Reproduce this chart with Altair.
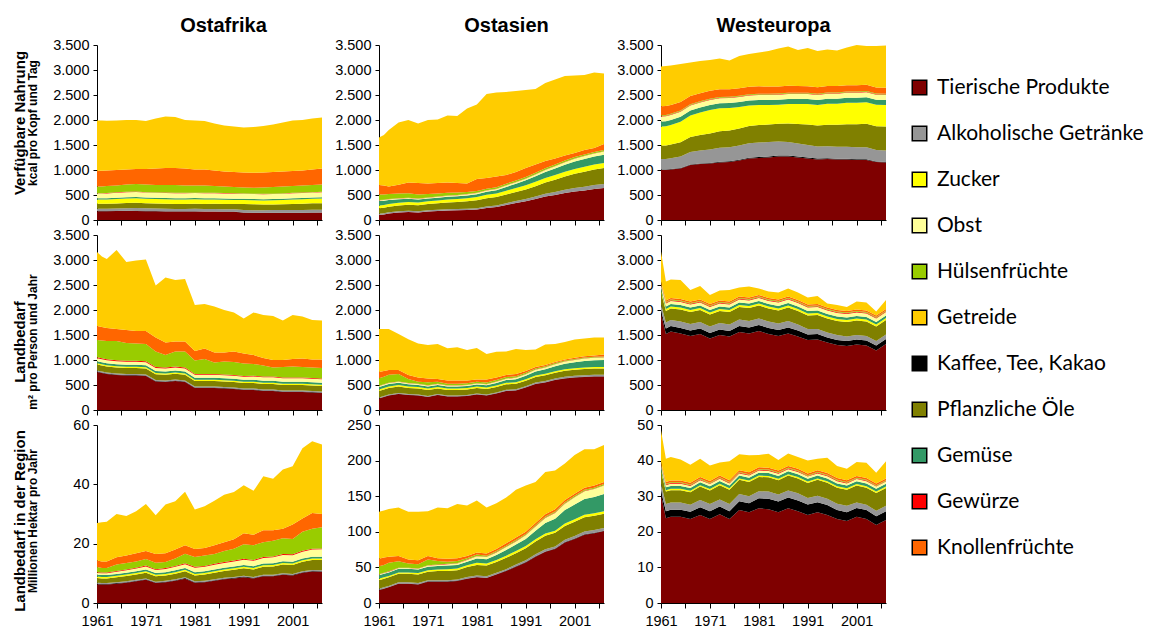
import altair as alt
import pandas as pd

YEARS = [1961, 1962, 1963, 1965, 1967, 1969, 1971, 1973, 1975, 1977, 1979, 1981, 1983,
         1985, 1987, 1989, 1991, 1993, 1995, 1997, 1999, 2001, 2003, 2005, 2007]
TICK_YEARS = [1961, 1966, 1971, 1976, 1981, 1986, 1991, 1996, 2001, 2006]

# legend order
CATEGORIES = ["Tierische Produkte", "Alkoholische Getränke", "Zucker", "Obst", "Hülsenfrüchte",
              "Getreide", "Kaffee, Tee, Kakao", "Pflanzliche Öle", "Gemüse", "Gewürze", "Knollenfrüchte"]
COLORS = ["#7f0000", "#969696", "#ffff00", "#ffff99", "#99cc00", "#ffcc00", "#000000",
          "#808000", "#339966", "#ff0000", "#ff6600"]
KEYS = {"tier": "Tierische Produkte", "kaffee": "Kaffee, Tee, Kakao", "alk": "Alkoholische Getränke",
        "oele": "Pflanzliche Öle", "zucker": "Zucker", "gemuese": "Gemüse", "obst": "Obst",
        "gewuerze": "Gewürze", "huelsen": "Hülsenfrüchte", "knollen": "Knollenfrüchte",
        "getreide": "Getreide"}
# stacking order, bottom to top
STACK = ["tier", "kaffee", "alk", "oele", "zucker", "gemuese", "obst", "gewuerze", "huelsen",
         "knollen", "getreide"]

COL_TITLES = ["Ostafrika", "Ostasien", "Westeuropa"]
ROW_TITLES = [("Verfügbare Nahrung", "kcal pro Kopf und Tag"),
              ("Landbedarf", "m² pro Person und Jahr"),
              ("Landbedarf in der Region", "Millionen Hektar pro Jahr")]

# ---------- Ostafrika, kcal pro Kopf und Tag ----------
OA_KCAL = {
    "tier": [175, 175, 175, 178, 180, 178, 175, 175, 172, 170, 170, 170, 168, 168, 165, 165, 145, 140, 140, 140, 140, 142, 142, 145, 148],
    "kaffee": [4, 4, 4, 4, 4, 4, 4, 4, 4, 4, 4, 4, 4, 4, 4, 4, 4, 4, 4, 4, 4, 4, 4, 4, 4],
    "alk": [45, 45, 48, 50, 52, 60, 55, 50, 50, 48, 48, 50, 50, 48, 48, 48, 50, 50, 52, 55, 55, 55, 55, 55, 55],
    "oele": [100, 100, 100, 100, 105, 105, 100, 100, 100, 100, 100, 100, 100, 105, 105, 105, 120, 120, 115, 110, 115, 120, 125, 130, 130],
    "zucker": [85, 85, 85, 90, 90, 90, 90, 90, 90, 90, 90, 90, 90, 85, 85, 80, 80, 80, 80, 85, 85, 90, 90, 90, 95],
    "gemuese": [25, 25, 25, 25, 25, 25, 25, 25, 25, 25, 25, 25, 25, 25, 25, 25, 25, 25, 25, 25, 25, 25, 25, 25, 25],
    "obst": [95, 95, 95, 100, 100, 100, 100, 100, 100, 100, 100, 100, 100, 100, 100, 100, 100, 100, 100, 100, 100, 100, 100, 100, 100],
    "gewuerze": [8, 8, 8, 8, 8, 8, 8, 8, 8, 8, 8, 8, 8, 8, 8, 8, 8, 8, 8, 8, 8, 8, 8, 8, 8],
    "huelsen": [133, 133, 140, 135, 146, 150, 153, 148, 151, 155, 145, 143, 145, 137, 130, 125, 118, 118, 126, 133, 138, 136, 141, 143, 145],
    "knollen": [315, 315, 310, 310, 300, 300, 310, 330, 340, 340, 340, 320, 320, 310, 300, 300, 300, 300, 300, 300, 300, 300, 300, 310, 320],
    "getreide": [1005, 1005, 995, 990, 990, 980, 960, 1000, 1030, 1020, 970, 980, 970, 940, 920, 910, 900, 915, 930, 950, 980, 1010, 1010, 1020, 1020],
}

# ---------- Ostasien, kcal pro Kopf und Tag ----------
OS_KCAL = {
    "tier": [100, 110, 130, 150, 160, 150, 170, 180, 190, 195, 200, 210, 240, 260, 300, 340, 375, 420, 470, 500, 540, 570, 590, 620, 640],
    "kaffee": [2, 2, 2, 2, 2, 2, 2, 2, 2, 2, 2, 2, 2, 2, 2, 2, 2, 2, 2, 2, 2, 2, 2, 2, 2],
    "alk": [25, 25, 25, 25, 25, 25, 25, 25, 25, 25, 25, 25, 30, 30, 35, 40, 45, 50, 55, 60, 65, 70, 75, 78, 80],
    "oele": [110, 110, 110, 115, 120, 120, 125, 130, 135, 140, 150, 160, 165, 170, 175, 180, 190, 205, 225, 245, 265, 285, 300, 310, 320],
    "zucker": [55, 55, 55, 55, 55, 55, 55, 55, 60, 60, 60, 65, 70, 70, 75, 80, 85, 90, 90, 95, 95, 95, 100, 100, 100],
    "gemuese": [90, 85, 80, 70, 65, 60, 55, 55, 55, 55, 55, 55, 60, 65, 75, 85, 100, 110, 120, 130, 140, 150, 155, 160, 165],
    "obst": [15, 15, 15, 15, 15, 15, 15, 18, 20, 20, 22, 25, 25, 25, 28, 30, 30, 35, 40, 45, 50, 55, 60, 62, 65],
    "gewuerze": [5, 5, 5, 5, 5, 5, 5, 5, 5, 5, 5, 5, 5, 5, 5, 5, 5, 5, 5, 5, 5, 5, 5, 5, 5],
    "huelsen": [110, 105, 100, 95, 90, 80, 70, 60, 55, 50, 40, 35, 30, 30, 30, 30, 30, 30, 30, 28, 28, 26, 25, 25, 25],
    "knollen": [188, 178, 148, 175, 215, 228, 208, 210, 203, 188, 171, 238, 213, 213, 175, 168, 178, 163, 143, 120, 100, 82, 88, 78, 118],
    "getreide": [950, 1010, 1130, 1243, 1248, 1190, 1270, 1270, 1340, 1340, 1500, 1490, 1680, 1680, 1660, 1620, 1560, 1510, 1560, 1580, 1590, 1550, 1500, 1510, 1410],
}

# ---------- Westeuropa, kcal pro Kopf und Tag ----------
WE_KCAL = {
    "tier": [1000, 1000, 1010, 1030, 1100, 1120, 1130, 1150, 1160, 1190, 1230, 1240, 1250, 1270, 1270, 1250, 1230, 1210, 1220, 1210, 1210, 1200, 1200, 1160, 1150],
    "kaffee": [10, 10, 10, 10, 12, 12, 12, 14, 15, 15, 15, 18, 20, 22, 22, 22, 20, 18, 16, 14, 14, 14, 14, 12, 12],
    "alk": [210, 210, 215, 230, 250, 260, 270, 280, 280, 285, 290, 290, 290, 280, 270, 260, 250, 240, 240, 240, 240, 240, 240, 230, 230],
    "oele": [270, 270, 275, 285, 300, 310, 320, 330, 335, 340, 345, 350, 350, 355, 370, 390, 410, 420, 430, 440, 450, 460, 470, 475, 480],
    "zucker": [380, 385, 390, 410, 430, 450, 470, 460, 450, 430, 410, 400, 390, 380, 390, 400, 410, 410, 420, 420, 430, 430, 430, 430, 430],
    "gemuese": [100, 100, 100, 100, 100, 100, 100, 100, 100, 100, 100, 100, 100, 100, 100, 100, 100, 100, 100, 100, 100, 100, 100, 100, 100],
    "obst": [100, 100, 100, 100, 100, 100, 100, 100, 100, 100, 100, 100, 100, 100, 100, 100, 100, 100, 100, 100, 100, 100, 100, 100, 100],
    "gewuerze": [10, 10, 10, 10, 10, 10, 10, 10, 10, 10, 10, 10, 10, 10, 10, 10, 10, 10, 10, 10, 10, 10, 10, 10, 10],
    "huelsen": [15, 15, 15, 15, 15, 15, 15, 15, 15, 15, 15, 15, 15, 15, 15, 15, 15, 15, 15, 15, 15, 15, 15, 15, 15],
    "knollen": [180, 180, 175, 170, 165, 160, 160, 155, 150, 150, 150, 150, 145, 140, 140, 135, 130, 130, 130, 130, 125, 125, 125, 120, 120],
    "getreide": [795, 800, 790, 760, 668, 643, 613, 616, 575, 645, 655, 677, 710, 758, 783, 718, 765, 727, 729, 711, 756, 806, 776, 828, 843],
}

# ---------- Ostafrika, m² pro Person und Jahr ----------
OA_M2 = {
    "tier": [760, 740, 720, 700, 690, 690, 680, 570, 560, 580, 560, 440, 440, 440, 430, 420, 400, 400, 380, 380, 360, 360, 360, 350, 340],
    "kaffee": [10, 10, 10, 10, 10, 10, 10, 10, 10, 10, 10, 10, 10, 10, 10, 10, 10, 10, 10, 10, 10, 10, 10, 10, 10],
    "alk": [20, 20, 20, 20, 20, 20, 20, 20, 20, 20, 20, 20, 20, 20, 20, 20, 20, 20, 20, 20, 20, 20, 20, 20, 20],
    "oele": [120, 120, 120, 120, 120, 120, 120, 115, 115, 115, 115, 110, 110, 110, 110, 110, 110, 110, 110, 110, 110, 110, 110, 110, 110],
    "zucker": [25, 25, 25, 25, 25, 25, 25, 25, 25, 25, 25, 25, 25, 25, 25, 25, 25, 25, 25, 25, 25, 25, 25, 25, 25],
    "gemuese": [40, 40, 40, 40, 40, 40, 40, 40, 40, 40, 40, 40, 40, 40, 40, 40, 40, 40, 40, 40, 40, 40, 40, 40, 40],
    "obst": [60, 60, 60, 60, 60, 60, 60, 60, 60, 60, 60, 60, 60, 60, 60, 60, 60, 65, 70, 70, 70, 70, 70, 70, 70],
    "gewuerze": [20, 20, 20, 20, 20, 20, 20, 20, 20, 20, 20, 15, 15, 15, 15, 15, 15, 15, 15, 15, 15, 15, 15, 15, 15],
    "huelsen": [345, 355, 365, 385, 355, 345, 345, 310, 250, 300, 320, 270, 300, 230, 260, 260, 250, 235, 220, 180, 210, 220, 210, 210, 210],
    "knollen": [280, 270, 260, 240, 260, 250, 260, 280, 250, 200, 200, 190, 210, 200, 180, 210, 200, 180, 150, 150, 140, 150, 170, 160, 170],
    "getreide": [1480, 1410, 1380, 1580, 1360, 1410, 1430, 1040, 1300, 1230, 1250, 920, 890, 920, 850, 780, 700, 850, 860, 880, 790, 880, 840, 790, 780],
}

# ---------- Ostasien, m² pro Person und Jahr ----------
OS_M2 = {
    "tier": [230, 260, 290, 320, 300, 290, 260, 300, 270, 270, 280, 310, 290, 330, 380, 390, 450, 520, 550, 600, 630, 650, 660, 670, 670],
    "kaffee": [3, 3, 3, 3, 3, 3, 3, 3, 3, 3, 3, 3, 3, 3, 3, 3, 3, 3, 3, 3, 3, 3, 3, 3, 3],
    "alk": [15, 15, 15, 15, 15, 15, 15, 15, 15, 15, 15, 15, 15, 15, 20, 20, 20, 25, 25, 25, 30, 30, 30, 30, 30],
    "oele": [130, 130, 130, 130, 120, 120, 120, 110, 110, 110, 110, 110, 110, 110, 110, 110, 110, 110, 115, 115, 120, 120, 125, 125, 125],
    "zucker": [30, 30, 30, 30, 30, 30, 30, 30, 30, 30, 30, 30, 30, 30, 30, 30, 30, 30, 30, 30, 30, 30, 30, 30, 30],
    "gemuese": [50, 50, 50, 45, 45, 40, 40, 40, 40, 40, 40, 40, 45, 50, 55, 60, 70, 80, 90, 100, 110, 120, 130, 135, 140],
    "obst": [20, 20, 20, 20, 20, 20, 20, 20, 20, 20, 20, 20, 20, 25, 25, 30, 30, 35, 35, 40, 45, 45, 50, 50, 50],
    "gewuerze": [5, 5, 5, 5, 5, 5, 5, 5, 5, 5, 5, 5, 5, 5, 5, 5, 5, 5, 5, 5, 5, 5, 5, 5, 5],
    "huelsen": [150, 150, 160, 150, 80, 40, 60, 40, 30, 30, 30, 30, 30, 30, 30, 25, 25, 20, 20, 20, 15, 15, 15, 15, 15],
    "knollen": [127, 117, 97, 82, 82, 87, 77, 57, 67, 67, 57, 47, 62, 52, 42, 47, 37, 32, 27, 22, 22, 27, 27, 27, 42],
    "getreide": [860, 840, 820, 720, 713, 680, 670, 700, 643, 663, 610, 630, 510, 517, 470, 500, 420, 350, 410, 360, 350, 365, 355, 360, 340],
}

# ---------- Westeuropa, m² pro Person und Jahr ----------
WE_M2 = {
    "tier": [1930, 1520, 1570, 1530, 1480, 1520, 1430, 1500, 1470, 1560, 1530, 1580, 1520, 1480, 1530, 1470, 1400, 1410, 1350, 1300, 1280, 1310, 1290, 1190, 1320],
    "kaffee": [60, 110, 110, 110, 110, 110, 110, 110, 110, 120, 120, 120, 120, 120, 120, 120, 110, 110, 100, 100, 100, 100, 100, 100, 100],
    "alk": [120, 120, 120, 130, 130, 130, 130, 130, 130, 130, 130, 130, 130, 130, 130, 120, 110, 100, 100, 100, 90, 90, 90, 90, 90],
    "oele": [250, 230, 230, 240, 240, 240, 240, 240, 250, 250, 260, 260, 260, 260, 270, 270, 270, 280, 280, 280, 290, 290, 290, 290, 290],
    "zucker": [40, 40, 40, 40, 40, 40, 40, 40, 40, 40, 40, 40, 40, 40, 40, 40, 40, 40, 40, 40, 40, 40, 40, 40, 40],
    "gemuese": [50, 50, 50, 50, 50, 50, 50, 50, 50, 50, 50, 50, 50, 50, 50, 50, 50, 50, 50, 50, 50, 50, 50, 50, 50],
    "obst": [60, 60, 60, 60, 60, 60, 60, 60, 60, 60, 60, 60, 60, 70, 70, 70, 70, 70, 70, 70, 70, 70, 70, 70, 70],
    "gewuerze": [15, 15, 15, 15, 15, 15, 15, 15, 15, 15, 15, 15, 15, 15, 15, 15, 15, 15, 15, 15, 15, 15, 15, 15, 15],
    "huelsen": [15, 15, 15, 15, 15, 15, 15, 15, 15, 15, 15, 15, 15, 15, 15, 15, 15, 15, 15, 15, 15, 15, 15, 15, 15],
    "knollen": [30, 30, 30, 30, 30, 30, 30, 30, 30, 30, 30, 30, 30, 30, 30, 30, 30, 30, 30, 30, 30, 30, 30, 30, 30],
    "getreide": [600, 380, 370, 380, 230, 270, 180, 200, 230, 180, 220, 130, 130, 140, 160, 150, 140, 160, 80, 100, 80, 160, 160, 80, 180],
}

# ---------- Ostafrika, Millionen Hektar pro Jahr ----------
OA_MHA = {
    "tier": [6.3, 6.2, 6.2, 6.5, 6.8, 7.3, 7.8, 6.7, 7.0, 7.5, 8.2, 6.8, 7.0, 7.5, 8.0, 8.3, 8.7, 8.3, 9.0, 9.0, 9.5, 9.3, 10.2, 10.6, 10.5],
    "kaffee": [0.2, 0.2, 0.2, 0.2, 0.2, 0.2, 0.2, 0.2, 0.2, 0.2, 0.2, 0.2, 0.2, 0.2, 0.2, 0.2, 0.2, 0.2, 0.2, 0.2, 0.2, 0.2, 0.2, 0.2, 0.2],
    "alk": [0.3, 0.3, 0.3, 0.3, 0.3, 0.3, 0.3, 0.3, 0.3, 0.3, 0.3, 0.3, 0.3, 0.3, 0.3, 0.3, 0.3, 0.3, 0.3, 0.3, 0.3, 0.3, 0.3, 0.3, 0.3],
    "oele": [1.6, 1.6, 1.6, 1.7, 1.8, 1.8, 1.9, 1.8, 1.8, 1.9, 2.0, 2.0, 2.1, 2.2, 2.3, 2.4, 2.5, 2.5, 2.7, 2.8, 3.0, 3.0, 3.2, 3.4, 3.5],
    "zucker": [0.5, 0.5, 0.5, 0.5, 0.5, 0.5, 0.5, 0.5, 0.5, 0.5, 0.5, 0.5, 0.5, 0.5, 0.5, 0.5, 0.5, 0.5, 0.5, 0.5, 0.5, 0.5, 0.5, 0.5, 0.5],
    "gemuese": [0.6, 0.6, 0.6, 0.6, 0.6, 0.6, 0.6, 0.6, 0.6, 0.6, 0.6, 0.6, 0.6, 0.6, 0.6, 0.6, 0.6, 0.6, 0.6, 0.6, 0.6, 0.6, 0.6, 0.6, 0.6],
    "obst": [0.6, 0.6, 0.6, 0.7, 0.8, 0.9, 1.0, 1.0, 1.1, 1.2, 1.3, 1.5, 1.5, 1.6, 1.6, 1.7, 1.8, 1.8, 1.9, 2.0, 2.1, 2.2, 2.3, 2.4, 2.5],
    "gewuerze": [0.3, 0.3, 0.3, 0.3, 0.3, 0.3, 0.3, 0.3, 0.3, 0.3, 0.3, 0.3, 0.3, 0.3, 0.3, 0.3, 0.3, 0.3, 0.3, 0.3, 0.3, 0.3, 0.3, 0.3, 0.3],
    "huelsen": [1.7, 1.5, 1.5, 2.2, 2.2, 2.1, 2.2, 2.2, 2.0, 2.5, 3.2, 3.3, 3.5, 3.3, 3.7, 4.0, 4.9, 5.0, 5.0, 5.3, 5.3, 5.2, 6.4, 6.7, 7.1],
    "knollen": [2.2, 2.2, 2.2, 2.4, 2.5, 2.8, 2.7, 2.9, 3.0, 3.0, 2.9, 2.7, 2.5, 3.0, 3.0, 3.2, 3.7, 3.5, 4.0, 3.5, 3.2, 4.9, 4.5, 5.3, 4.5],
    "getreide": [12.7, 13.2, 13.4, 14.6, 13.3, 14.1, 15.9, 13.1, 16.4, 16.3, 18.0, 13.3, 14.1, 15.0, 16.0, 15.9, 16.2, 14.8, 18.2, 17.4, 20.0, 19.6, 23.7, 24.2, 23.4],
}

# ---------- Ostasien, Millionen Hektar pro Jahr ----------
OS_MHA = {
    "tier": [18, 20, 22, 27, 27, 26, 30, 30, 30, 31, 34, 36, 35, 40, 45, 51, 57, 65, 72, 76, 85, 90, 96, 98, 101],
    "kaffee": [0.5, 0.5, 0.5, 0.5, 0.5, 0.5, 0.5, 0.5, 0.5, 0.5, 0.5, 0.5, 0.5, 0.5, 0.5, 0.5, 0.5, 0.5, 0.5, 0.5, 0.5, 0.5, 0.5, 0.5, 0.5],
    "alk": [1.5, 1.5, 1.5, 1.5, 1.5, 1.5, 1.5, 1.5, 1.5, 1.5, 2, 2, 2, 2, 2, 2.5, 2.5, 3, 3, 3, 3.5, 3.5, 4, 4, 4],
    "oele": [12, 12, 12, 12, 12, 12, 12, 13, 13, 13, 14, 15, 15, 15, 16, 16, 17, 18, 19, 19, 19, 20, 20, 20, 20],
    "zucker": [2, 2, 2, 2, 2, 2, 2, 2, 2.5, 2.5, 2.5, 3, 3, 3, 3, 3, 3, 3, 3, 3, 3.5, 3.5, 3.5, 3.5, 3.5],
    "gemuese": [5, 5, 5, 5, 5, 5, 5, 5, 5, 5, 5, 6, 6, 7, 8, 9, 10, 12, 15, 17, 19, 21, 22, 23, 24],
    "obst": [1, 1, 1, 1, 1, 1, 1.5, 1.5, 2, 2, 2.5, 3, 3, 3.5, 4, 4.5, 5, 6, 7, 8, 9, 10, 11, 11, 12],
    "gewuerze": [0.5, 0.5, 0.5, 0.5, 0.5, 0.5, 0.5, 0.5, 0.5, 0.5, 0.5, 0.5, 0.5, 0.5, 0.5, 0.5, 0.5, 0.5, 0.5, 0.5, 0.5, 0.5, 0.5, 0.5, 0.5],
    "huelsen": [11, 11, 12, 9, 6, 6, 8, 5, 3, 3, 2, 2, 1.5, 1.5, 1.5, 1.5, 1.5, 1.5, 1.5, 1.5, 1.5, 1.5, 1.5, 1.5, 1.5],
    "knollen": [10.5, 10.5, 8.5, 7.5, 5.5, 5.5, 5, 4, 4, 4, 3, 3, 3, 3, 3.5, 3.5, 3, 3, 3, 3, 3, 3, 3, 3, 3],
    "getreide": [66, 66, 67, 68, 67, 68, 63, 71, 71, 76, 71, 73, 64.5, 64, 64, 67, 65, 57.5, 59.5, 54.5, 51.5, 54.5, 54, 51, 52],
}

# ---------- Westeuropa, Millionen Hektar pro Jahr ----------
WE_MHA = {
    "tier": [30.5, 23.8, 24.2, 24.2, 23.6, 24.7, 23.6, 24.9, 23.6, 26.1, 25.5, 26.6, 26.3, 25.5, 26.6, 25.8, 24.7, 25.5, 24.7, 23.6, 23.0, 24.2, 23.6, 21.9, 23.3],
    "kaffee": [1.0, 2.0, 2.0, 2.0, 2.0, 2.2, 2.2, 2.2, 2.2, 2.5, 2.5, 2.8, 3.0, 3.0, 3.0, 3.0, 3.0, 2.8, 2.8, 2.5, 2.5, 2.5, 2.5, 2.5, 2.5],
    "alk": [2.0, 2.0, 2.0, 2.0, 2.0, 2.0, 2.0, 2.0, 2.0, 2.0, 2.0, 2.0, 2.0, 2.0, 2.0, 2.0, 1.8, 1.8, 1.8, 1.8, 1.8, 1.5, 1.5, 1.5, 1.5],
    "oele": [3.5, 3.5, 3.5, 3.5, 3.5, 3.8, 3.8, 4.0, 4.0, 4.0, 4.0, 4.0, 4.0, 4.0, 4.2, 4.2, 4.2, 4.5, 4.5, 4.5, 4.5, 4.8, 4.8, 5.0, 5.0],
    "zucker": [0.4, 0.4, 0.4, 0.4, 0.4, 0.4, 0.4, 0.4, 0.4, 0.4, 0.4, 0.4, 0.4, 0.4, 0.4, 0.4, 0.4, 0.4, 0.4, 0.4, 0.4, 0.4, 0.4, 0.4, 0.4],
    "gemuese": [0.8, 0.8, 0.8, 0.8, 0.8, 0.8, 0.8, 0.8, 0.8, 0.8, 0.8, 0.8, 0.8, 0.8, 0.8, 0.8, 0.8, 0.8, 0.8, 0.8, 0.8, 0.8, 0.8, 0.8, 0.8],
    "obst": [0.6, 0.6, 0.6, 0.6, 0.6, 0.6, 0.6, 0.6, 0.6, 0.6, 0.6, 0.6, 0.6, 0.6, 0.6, 0.6, 0.6, 0.6, 0.6, 0.6, 0.6, 0.6, 0.6, 0.6, 0.6],
    "gewuerze": [0.2, 0.2, 0.2, 0.2, 0.2, 0.2, 0.2, 0.2, 0.2, 0.2, 0.2, 0.2, 0.2, 0.2, 0.2, 0.2, 0.2, 0.2, 0.2, 0.2, 0.2, 0.2, 0.2, 0.2, 0.2],
    "huelsen": [0.2, 0.2, 0.2, 0.2, 0.2, 0.2, 0.2, 0.2, 0.2, 0.2, 0.2, 0.2, 0.2, 0.2, 0.2, 0.2, 0.2, 0.2, 0.2, 0.2, 0.2, 0.2, 0.2, 0.2, 0.2],
    "knollen": [0.5, 0.5, 0.5, 0.5, 0.5, 0.5, 0.5, 0.5, 0.5, 0.5, 0.5, 0.5, 0.5, 0.5, 0.5, 0.5, 0.5, 0.5, 0.5, 0.5, 0.5, 0.5, 0.5, 0.5, 0.5],
    "getreide": [8.8, 6.5, 6.6, 5.9, 5.0, 5.1, 4.3, 3.7, 5.3, 4.5, 4.8, 3.5, 3.9, 3.0, 3.5, 3.3, 3.6, 3.2, 4.3, 3.4, 3.2, 3.9, 4.3, 3.0, 4.8],
}

GRID = [[OA_KCAL, OS_KCAL, WE_KCAL], [OA_M2, OS_M2, WE_M2], [OA_MHA, OS_MHA, WE_MHA]]
Y_TICKS = [
    [[0, 500, 1000, 1500, 2000, 2500, 3000, 3500]] * 3,
    [[0, 500, 1000, 1500, 2000, 2500, 3000, 3500]] * 3,
    [[0, 20, 40, 60], [0, 50, 100, 150, 200, 250], [0, 10, 20, 30, 40, 50]],
]
ROW_HEIGHTS = [175, 175, 178]
PANEL_W = 225
ROW_LABEL_Y = [78, 107, 96]
TITLE_DX = [14, 15, 0]

FONT = "Liberation Sans"
LEGEND = alt.Legend(title=None, orient="none", legendX=812, legendY=32, padding=0,
                    symbolType="square", symbolSize=210, symbolStrokeColor="black",
                    symbolStrokeWidth=1.5, symbolOpacity=1, labelFont="Lato",
                    labelFontSize=21, labelColor="black", labelOffset=7, rowPadding=24,
                    labelLimit=400)


def frame(data):
    rows = []
    for k, key in enumerate(STACK):
        for y, v in zip(YEARS, data[key]):
            rows.append({"year": y, "cat": KEYS[key], "value": v, "idx": k})
    return pd.DataFrame(rows)


def panel(r, c):
    ticks = Y_TICKS[r][c]
    xaxis = alt.Axis(values=TICK_YEARS, title=None, grid=False, tickSize=5, labels=(r == 2),
                     labelExpr="(datum.value - 1961) % 10 == 0 ? format(datum.value, 'd') : ''",
                     labelPadding=6, labelFlush=False)
    yaxis = alt.Axis(values=ticks, title=None, grid=False, tickSize=4, labelPadding=4,
                     labelExpr="replace(format(datum.value, ','), ',', '.')")
    area = alt.Chart(frame(GRID[r][c])).mark_area(interpolate="linear").encode(
        x=alt.X("year:Q", scale=alt.Scale(domain=[1961, 2007], nice=False, zero=False), axis=xaxis),
        y=alt.Y("value:Q", stack="zero", scale=alt.Scale(domain=[0, ticks[-1]], nice=False), axis=yaxis),
        color=alt.Color("cat:N", scale=alt.Scale(domain=CATEGORIES, range=COLORS), legend=LEGEND),
        order=alt.Order("idx:Q", sort="ascending"),
    )
    layers = [area]
    if c == 0:
        t1, t2 = ROW_TITLES[r]
        layers.append(alt.Chart(pd.DataFrame({"t": [t1]})).mark_text(
            angle=270, font=FONT, fontSize=15, fontWeight="bold", color="black",
            align="center", baseline="middle").encode(
            text="t:N", x=alt.value(-77), y=alt.value(ROW_LABEL_Y[r])))
        layers.append(alt.Chart(pd.DataFrame({"t": [t2]})).mark_text(
            angle=270, font=FONT, fontSize=12, fontWeight="bold", color="black",
            align="center", baseline="middle").encode(
            text="t:N", x=alt.value(-64), y=alt.value(ROW_LABEL_Y[r])))
    ch = alt.layer(*layers).properties(width=PANEL_W, height=ROW_HEIGHTS[r])
    if r == 0:
        ch = ch.properties(title=alt.TitleParams(COL_TITLES[c], font=FONT, fontSize=20,
                                                 fontWeight="bold", anchor="middle",
                                                 offset=1, dx=TITLE_DX[c], color="black"))
    return ch


panels = [panel(r, c) for r in range(3) for c in range(3)]

chart = alt.concat(*panels, columns=3, spacing={"row": 15, "column": 57}, bounds="flush").resolve_scale(
    color="shared"
).properties(
    padding={"left": 5, "top": 8, "right": 0, "bottom": 0}
).configure_view(strokeWidth=0).configure_axis(
    domainColor="black", tickColor="black", labelColor="black", labelFont=FONT,
    labelFontSize=14.5, domainWidth=1, tickWidth=1
)

chart.save("out.html", embed_options={"renderer": "svg", "actions": False})
